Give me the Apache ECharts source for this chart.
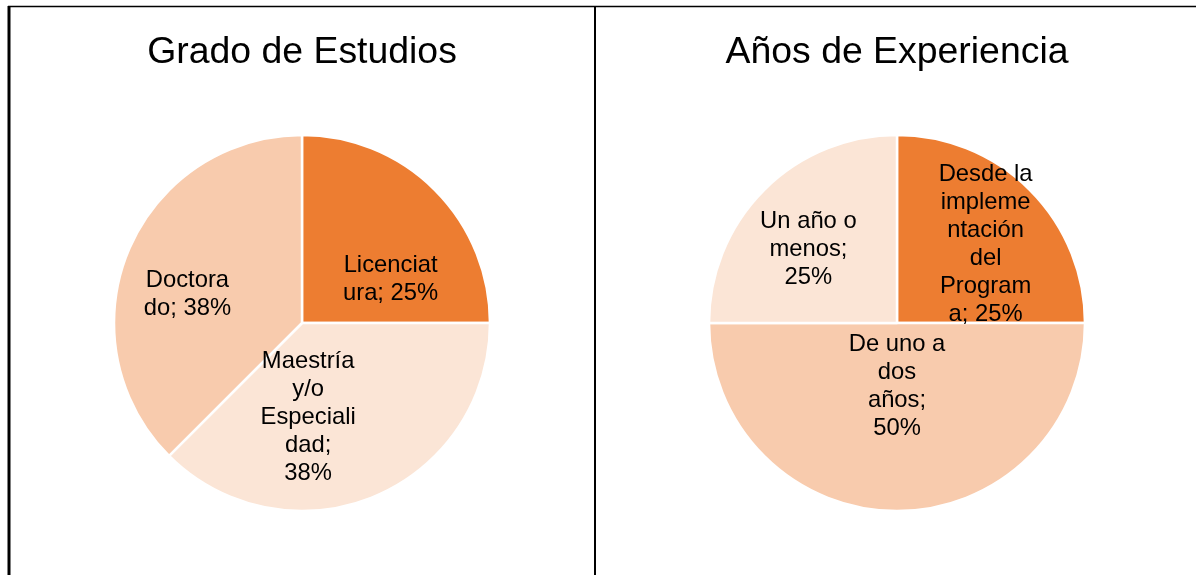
<!DOCTYPE html>
<html>
<head>
<meta charset="utf-8">
<script src="https://cdn.jsdelivr.net/npm/echarts@6/dist/echarts.min.js"></script>
<style>
    html, body {margin: 0; padding: 0; background: #fff;}
    #main {width: 1196px; height: 575px;}
</style>
</head>
<body>
<div id="main"></div>
<script>
// 数据
let gradoNames = ['Licenciatura', 'Maestría y/o Especialidad', 'Doctorado'];
let gradoValues = [2, 3, 3];
let gradoWrap = ['Licenciat\nura', 'Maestría\ny/o\nEspeciali\ndad;\n', 'Doctora\ndo'];

let expNames = ['Desde la implementación del Programa', 'De uno a dos años', 'Un año o menos'];
let expValues = [1, 2, 1];
let expWrap = ['Desde la\nimpleme\nntación\ndel\nProgram\na', 'De uno a\ndos\naños;\n', 'Un año o\nmenos;\n'];

let colorList = ['#ed7d31', '#fbe5d6', '#f8cbad'];
let colorList2 = ['#ed7d31', '#f8cbad', '#fbe5d6'];

// 标签偏移
let gradoOffset = [[20, 25], [-31, 5], [-25, 9]];
let expOffset = [[20, -10], [0, -34], [-20, -5]];

let myChart = echarts.init(document.getElementById('main'));

let buildData = (names, values) => {
    return names.map((n, i) => {
        return {name: n, value: values[i]};
    });
};

let makeLabel = (wrap) => {
    return (p) => {
        let txt = wrap[p.dataIndex];
        let pct = Math.round(p.percent) + '%';
        return txt.slice(-1) === '\n' ? txt + pct : txt + '; ' + pct;
    };
};

let drawPie = (center, data, wrap, offset, color) => {
    return {
        type: 'pie',
        silent: true,
        radius: 188,
        center: center,
        startAngle: 90,
        clockwise: true,
        color: color,
        animation: false,
        itemStyle: {borderColor: '#fff', borderWidth: 2.5},
        label: {
            show: true,
            position: 'inside',
            color: '#000',
            fontSize: 23.8,
            lineHeight: 28,
            fontFamily: 'Liberation Sans, Arial, sans-serif',
            align: 'center',
            formatter: makeLabel(wrap)
        },
        labelLine: {show: false},
        labelLayout: (params) => {
            let o = offset[params.dataIndex];
            return {dx: o[0], dy: o[1]};
        },
        data: data
    };
};

myChart.setOption({
    backgroundColor: '#fff',
    title: [
        {
            text: 'Grado de Estudios', left: 297, top: 29, textAlign: 'center',
            textStyle: {fontSize: 37.4, fontWeight: 'normal', color: '#000', fontFamily: 'Liberation Sans, Arial, sans-serif'}
        },
        {
            text: 'Años de Experiencia', left: 892, top: 29, textAlign: 'center',
            textStyle: {fontSize: 37.4, fontWeight: 'normal', color: '#000', fontFamily: 'Liberation Sans, Arial, sans-serif'}
        }
    ],
    graphic: [
        {type: 'line', shape: {x1: 8, y1: 6.5, x2: 1196, y2: 6.5}, style: {stroke: '#000', lineWidth: 1.5}},
        {type: 'line', shape: {x1: 9, y1: 6, x2: 9, y2: 575}, style: {stroke: '#000', lineWidth: 3}},
        {type: 'line', shape: {x1: 595, y1: 6, x2: 595, y2: 575}, style: {stroke: '#000', lineWidth: 2}}
    ],
    series: [
        drawPie([302, 323], buildData(gradoNames, gradoValues), gradoWrap, gradoOffset, colorList),
        drawPie([897, 323], buildData(expNames, expValues), expWrap, expOffset, colorList2)
    ]
});
</script>
</body>
</html>
